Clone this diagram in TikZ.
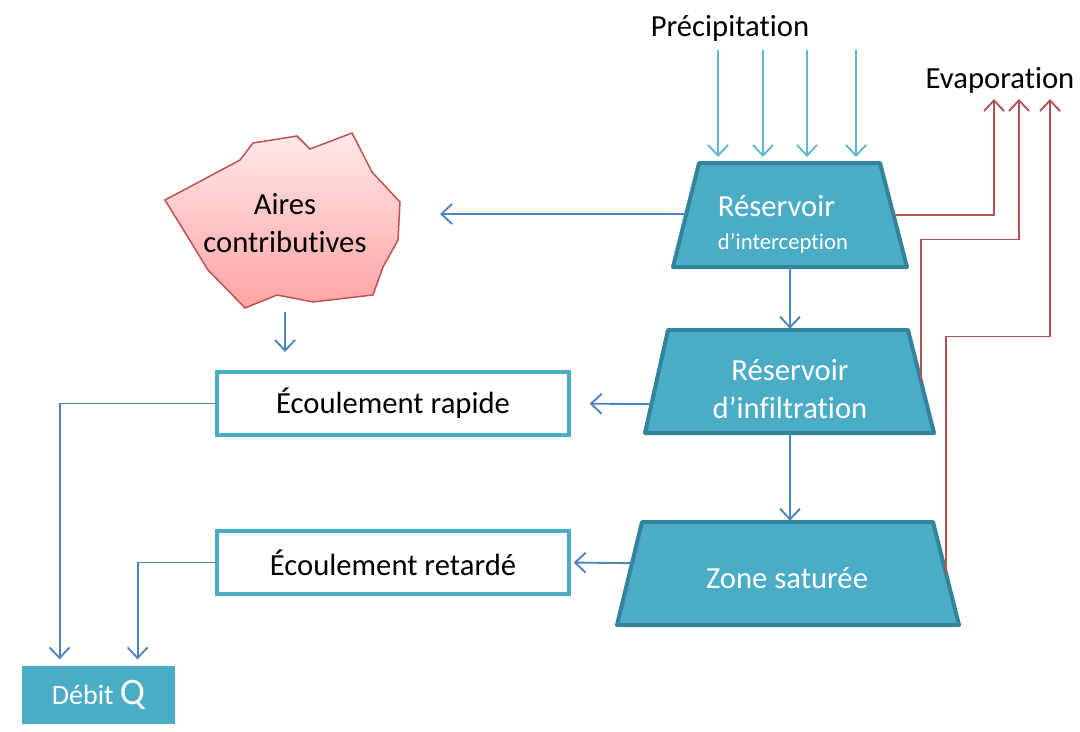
\documentclass[tikz,border=0pt]{standalone}
\usepackage{fontspec}
\setmainfont{Carlito}[Ligatures={NoCommon}]
\usepackage{tikz}
\usetikzlibrary{shapes}
\usetikzlibrary{arrows.meta}
\usetikzlibrary{calc}
\definecolor{bleu}{RGB}{75,172,198}
\definecolor{bleufonce}{RGB}{49,132,155}
\definecolor{fleche}{RGB}{79,129,189}
\definecolor{pluiebleu}{RGB}{95,182,207}
\definecolor{rouge}{RGB}{178,82,82}
\definecolor{rosebord}{RGB}{192,80,77}

\begin{document}
\begin{tikzpicture}[x=0.75pt,y=-0.75pt,
					texte/.style={font=\fontsize{23}{28}\selectfont},
					reservoir/.style={draw=bleufonce,line width=3pt,fill=bleu,line join=round},
					restexte/.style={text=white,inner sep=0pt,font=\fontsize{23}{28}\selectfont},
					ecoul/.style={rectangle,draw=bleu,line width=3pt,fill=white,minimum width=264pt,minimum height=47pt,
						font=\fontsize{23}{28}\selectfont},
					flux/.style={draw=fleche,line width=1.4pt,-{Straight Barb[length=8pt,width=15pt]}},
					pluie/.style={draw=pluiebleu,line width=1.4pt,-{Straight Barb[length=8pt,width=15pt]}},
					evap/.style={draw=rouge,line width=1.4pt,-{Straight Barb[length=8pt,width=15pt]}}
					]
					\useasboundingbox (0,0) rectangle (1080,731);
					\node[texte](precip) at (730,28) {Précipitation};
					\node[texte](evapo) at (1000,80) {Evaporation};
					\draw[reservoir] (699,163) coordinate (interc-hg) -- (880,163) coordinate (interc-hd)
						-- (907,267) coordinate (interc-bd) -- (673,267) coordinate (interc-bg) -- cycle;
					\draw[reservoir] (668,330) coordinate (infil-hg) -- (908,330) coordinate (infil-hd)
						-- (934,433) coordinate (infil-bd) -- (645,433) coordinate (infil-bg) -- cycle;
					\draw[reservoir] (642,522) coordinate (zone-hg) -- (933,522) coordinate (zone-hd)
						-- (959,625) coordinate (zone-bd) -- (617,625) coordinate (zone-bg) -- cycle;
					\node[restexte,align=left](interc) at (783,224) {Réservoir\\[-3pt]{\fontsize{17}{20}\selectfont d’interception}};
					\node[restexte,align=center](infil) at (790,389) {Réservoir\\[1pt]d’infiltration};
					\node[restexte](zone) at (787,578) {Zone saturée};
					\node[ecoul](rapide) at (393,403.5) {Écoulement rapide};
					\node[ecoul](retard) at (393,562.5) {Écoulement retardé};
					\node[rectangle,fill=bleu,text=white,minimum width=115pt,minimum height=43pt,font=\fontsize{21}{25}\selectfont](debit) at (98.5,695) {Débit {\fontsize{28}{30}\selectfont Q}};
					\filldraw[draw=rosebord,line width=1.1pt,top color=red!9,bottom color=red!36!white]
						(165,200) -- (240,160) -- (253,143) -- (297,136) -- (310,149) -- (352,133) -- (372,172) -- (400,202)
						-- (398,240) -- (383,267) -- (373,295) -- (313,302) -- (277,295) -- (245,308) -- (208,270) -- cycle;
					\node[texte,align=center](aires) at (285,223) {Aires\\contributives};
					\coordinate (airesbas) at (285,312);
					\coordinate (airesdroite) at (440,214);
					\coordinate (ev1) at (994,99);
					\coordinate (ev2) at (1019,99);
					\coordinate (ev3) at (1050,99);
					\foreach \x in {718,763,807,856}
						\draw[pluie] (\x,50) -- (\x,157);
					\draw[flux] ($(interc-hg)!0.49!(interc-bg)$) -- (airesdroite);
					\draw[flux] (airesbas) -- ++(0,40);
					\draw[flux,shorten >=1pt] (interc-bg -| 790,0) -- (infil-hg -| 790,0);
					\draw[flux,shorten >=1pt] (infil-bg -| 790,0) -- (zone-hg -| 790,0);
					\draw[flux,shorten >=14pt] ($(infil-hg)!0.72!(infil-bg)$) -- (rapide.east);
					\draw[flux,shorten >=2pt] ($(zone-hg)!0.4!(zone-bg)$) -- (retard.east);
					\draw[flux,shorten >=5pt] (rapide.west) -| ($(debit.north west)+(38,0)$);
					\draw[flux,shorten >=5pt] (retard.west) -| ($(debit.north west)+(116,0)$);
					\draw[evap] ($(interc-hd)!0.5!(interc-bd)$) -| (ev1);
					\draw[evap] ($(infil-hd)!0.5!(infil-bd)$) -- ++(0,-142) -| (ev2);
					\draw[evap] ($(zone-hd)!0.5!(zone-bd)$) -- ++(0,-237) -| (ev3);
\end{tikzpicture}
\end{document}
